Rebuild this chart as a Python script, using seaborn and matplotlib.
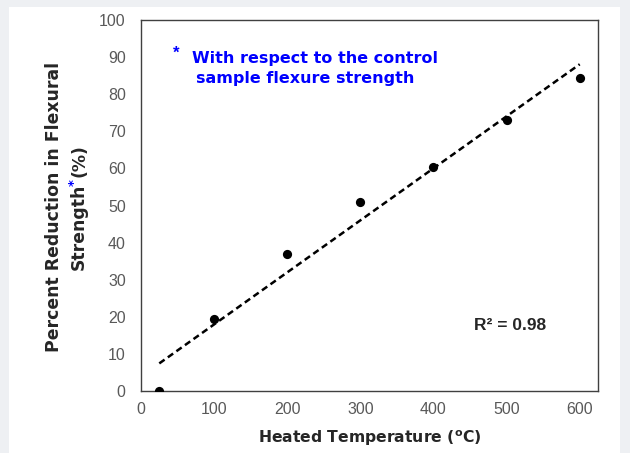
import matplotlib
matplotlib.use("Agg")
import matplotlib.pyplot as plt
import seaborn as sns
import pandas as pd
import numpy as np
from matplotlib.patches import Rectangle

temperature = [25, 100, 200, 300, 400, 500, 600]
reduction = [0, 19.5, 37, 51, 60.5, 73, 84.5]
x_ticks = [0, 100, 200, 300, 400, 500, 600]
y_ticks = [0, 10, 20, 30, 40, 50, 60, 70, 80, 90, 100]

df = pd.DataFrame({"temp": temperature, "red": reduction})

sns.set_theme(style="white")
plt.rcParams['font.family'] = ['Liberation Sans', 'DejaVu Sans']
plt.rcParams['mathtext.fontset'] = 'dejavusans'

W, H = 630, 453
BOLD = ['DejaVu Sans']
fig = plt.figure(figsize=(6.3, 4.53), dpi=100, facecolor="#eef0f3")
fig.patches.append(Rectangle((9 / W, 0), (620 - 9) / W, (H - 7) / H,
                             transform=fig.transFigure, facecolor="white",
                             edgecolor="none", zorder=-10))

ax = fig.add_axes([141 / W, 1 - 391 / H, (598 - 141) / W, (391 - 20) / H])
ax.set_zorder(1)
ax.set_facecolor("white")

sns.regplot(data=df, x="temp", y="red", ax=ax, ci=None,
            scatter_kws=dict(s=44, color="black", alpha=1, zorder=3, linewidths=0),
            line_kws=dict(color="black", lw=1.8, linestyle=(0, (2.6, 1.6))))

ax.set_xlim(0, 625)
ax.set_ylim(0, 100)
ax.set_xticks(x_ticks)
ax.set_yticks(y_ticks)
ax.tick_params(axis="both", length=0, labelsize=11.5, labelcolor="#595959")
ax.tick_params(axis="x", pad=8)
ax.tick_params(axis="y", pad=11)
for s in ax.spines.values():
    s.set_visible(True)
    s.set_color("#404040")
    s.set_linewidth(1.0)
ax.set_xlabel("")
ax.set_ylabel("")

fig.canvas.draw()
r = fig.canvas.get_renderer()


def fit(t, target, horizontal=True):
    fig.canvas.draw()
    bb = t.get_window_extent(r)
    cur = bb.width if horizontal else bb.height
    t.set_fontsize(t.get_fontsize() * target / cur)


# x label
xl = fig.text(370 / W, 1 - 438 / H, "Heated Temperature ($^{\\mathbf{o}}$C)",
              ha="center", va="center", fontsize=11.5, fontweight="bold",
              color="#262626", family=BOLD)
fit(xl, 224)

# y label line 1
yl1 = fig.text(54 / W, 1 - 207 / H, "Percent Reduction in Flexural", rotation=90,
               ha="center", va="center", fontsize=12, fontweight="bold",
               color="#262626", family=BOLD)
fit(yl1, 288, horizontal=False)
fs_y = yl1.get_fontsize()

# y label line 2 pieces
t1 = fig.text(79 / W, 0.5, "Strength", rotation=90, ha="center",
              va="bottom", fontsize=fs_y, fontweight="bold", color="#262626",
              family=BOLD)
fig.canvas.draw()
bb = t1.get_window_extent(r)
t2 = fig.text(74 / W, (bb.y1 - 2) / H, "*", rotation=90, ha="center",
              va="bottom", fontsize=fs_y * 0.75, fontweight="bold",
              color="#0000ff", family=BOLD)
fig.canvas.draw()
bb2 = t2.get_window_extent(r)
t3 = fig.text(79 / W, (bb2.y1 + 2) / H, "(%)", rotation=90, ha="center",
              va="bottom", fontsize=fs_y, fontweight="bold", color="#262626",
              family=BOLD)
fig.canvas.draw()
lo = t1.get_window_extent(r).y0
hi = t3.get_window_extent(r).y1
center_target = H - 207
shift = center_target - (lo + hi) / 2
for t in (t1, t2, t3):
    x, y = t.get_position()
    t.set_position((x, y + shift / H))

# annotation
fig.text(176 / W, 1 - 53 / H, "*", ha="center", va="center", fontsize=12,
         fontweight="bold", color="#0000ff")
a1 = fig.text(192 / W, 1 - 63 / H, "With respect to the control", ha="left",
              va="baseline", fontsize=11, fontweight="bold", color="#0000ff",
              family=BOLD)
fit(a1, 243)
fig.text(196 / W, 1 - 83 / H, "sample flexure strength", ha="left",
         va="baseline", fontsize=a1.get_fontsize(), fontweight="bold",
         color="#0000ff", family=BOLD)

fig.text(474 / W, 1 - 326 / H, "R\u00b2 = 0.98", ha="left", va="center",
         fontsize=12.5, fontweight="bold", color="#262626")

fig.savefig("out.png", dpi=100, facecolor=fig.get_facecolor())
